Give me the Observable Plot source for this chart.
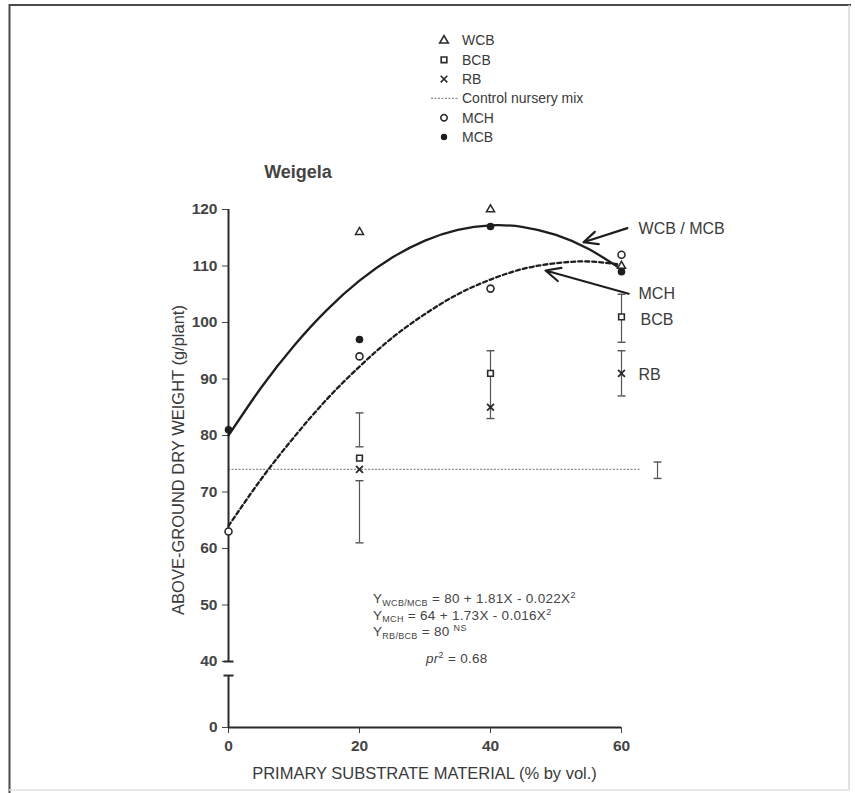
<!DOCTYPE html>
<html><head><meta charset="utf-8">
<script src="https://cdn.jsdelivr.net/npm/d3@7"></script>
<script src="https://cdn.jsdelivr.net/npm/@observablehq/plot@0.6"></script>
<style>
body{margin:0;background:#fff;}
#chart{width:855px;height:793px;}
</style></head><body><div id="chart"></div>
<script>
// ---- data ----
const xTicks = [0, 20, 40, 60];
const yTicks = [0, 40, 50, 60, 70, 80, 90, 100, 110, 120];
const yAxisSegments = [{y1: 0, y2: 31.5}, {y1: 40, y2: 120}];
const yBreakCaps = [31.5, 40];

const wcb = [{x: 20, y: 116}, {x: 40, y: 120}, {x: 60, y: 110}];
const bcb = [{x: 20, y: 76}, {x: 40, y: 91}, {x: 60, y: 101}];
const rb  = [{x: 20, y: 74}, {x: 40, y: 85}, {x: 60, y: 91}];
const mch = [{x: 0, y: 63}, {x: 20, y: 94}, {x: 40, y: 106}, {x: 60, y: 112}];
const mcb = [{x: 0, y: 81}, {x: 20, y: 97}, {x: 40, y: 117}, {x: 60, y: 109}];

const errorBars = [
  {x: 20, lo: 78, hi: 84}, {x: 20, lo: 61, hi: 72},
  {x: 40, lo: 83, hi: 95},
  {x: 60, lo: 96.5, hi: 105}, {x: 60, lo: 87, hi: 95},
  {x: 65.5, lo: 72.4, hi: 75.3}
];
const control = [{x1: 0, x2: 63, y: 74}];

// fitted curves
const fitX   = [0, 5, 10, 15, 20, 25, 30, 35, 40, 45, 50, 55, 60];
const fitWCB = [80.0, 88.5, 95.9, 102.2, 107.4, 111.5, 114.5, 116.4, 117.2, 116.9, 115.5, 113.0, 109.4];
const fitMCH = [64.0, 72.3, 79.7, 86.4, 92.2, 97.3, 101.5, 105.0, 107.6, 109.5, 110.5, 110.8, 110.2];

const arrows = [
  {x1: 60.9, y1: 116.7, x2: 54.2, y2: 114.2},
  {x1: 61.1, y1: 105.1, x2: 48.4, y2: 109.2}
];
const curveLabels = [
  {x: 62.6, y: 116.5, text: "WCB / MCB"},
  {x: 62.6, y: 105.1, text: "MCH"},
  {x: 62.9, y: 100.4, text: "BCB"},
  {x: 62.6, y: 90.8, text: "RB"}
];
const legendItems = [
  {label: "WCB", kind: "triangle"},
  {label: "BCB", kind: "square"},
  {label: "RB", kind: "times"},
  {label: "Control nursery mix", kind: "line"},
  {label: "MCH", kind: "circle"},
  {label: "MCB", kind: "disc"}
];
const equations = [
  [["Y", "n"], ["WCB/MCB", "sub"], [" = 80 + 1.81X - 0.022X", "n"], ["2", "sup"]],
  [["Y", "n"], ["MCH", "sub"], [" = 64 + 1.73X - 0.016X", "n"], ["2", "sup"]],
  [["Y", "n"], ["RB/BCB", "sub"], [" = 80 ", "n"], ["NS", "sup"]],
  [["pr", "i"], ["2", "sup"], [" = 0.68", "n"]]
];
const title = "Weigela";
const xLabel = "PRIMARY SUBSTRATE MATERIAL (% by vol.)";
const yLabel = "ABOVE-GROUND DRY WEIGHT (g/plant)";

// ---- chart ----
const ink = "#2a2a2a";
const hline = {draw(ctx, size) { const w = Math.sqrt(size / Math.PI); ctx.moveTo(-w, 0); ctx.lineTo(w, 0); }};
const fitWCBData = fitX.map((x, i) => ({x, y: fitWCB[i]}));
const fitMCHData = fitX.map((x, i) => ({x, y: fitMCH[i]}));
const caps = errorBars.flatMap(d => [{x: d.x, y: d.lo}, {x: d.x, y: d.hi}]);

const plot = Plot.plot({
  width: 855, height: 793,
  marginLeft: 228, marginRight: 234, marginTop: 209, marginBottom: 66,
  style: {background: "#fff", color: "#444", fontFamily: "Liberation Sans, Arial, sans-serif", fontSize: "15.5px", fontWeight: "bold"},
  x: {domain: [0, 60], range: [228, 621], ticks: xTicks, tickSize: 6, tickPadding: 6, label: null},
  y: {type: "linear", domain: [0, 40, 120], range: [727, 661, 209], ticks: yTicks, tickSize: 6, tickPadding: 5, label: null},
  marks: [
    Plot.ruleY(control, {x1: "x1", x2: "x2", y: "y", stroke: "#8a8a8a", strokeWidth: 1.3, strokeDasharray: "2,1.5"}),
    Plot.ruleX(errorBars, {x: "x", y1: "lo", y2: "hi", stroke: "#555", strokeWidth: 1.2}),
    Plot.dot(caps, {x: "x", y: "y", symbol: hline, r: 4, stroke: "#555", strokeWidth: 1.4}),
    Plot.ruleX(yAxisSegments, {x: 0, y1: "y1", y2: "y2", stroke: ink, strokeWidth: 2}),
    Plot.dot(yBreakCaps, {x: 0, y: d => d, symbol: hline, r: 5, stroke: ink, strokeWidth: 2}),
    Plot.ruleY([0], {x1: 0, x2: 60, stroke: ink, strokeWidth: 2}),
    Plot.line(fitWCBData, {x: "x", y: "y", curve: "natural", stroke: "#1e1e1e", strokeWidth: 2.3}),
    Plot.line(fitMCHData, {x: "x", y: "y", curve: "natural", stroke: "#1e1e1e", strokeWidth: 2.3, strokeDasharray: "4,3"}),
    Plot.dot(wcb, {x: "x", y: "y", symbol: "triangle", r: 3, stroke: ink, strokeWidth: 1.5, fill: "#fff"}),
    Plot.dot(bcb, {x: "x", y: "y", symbol: "square", r: 3.2, stroke: ink, strokeWidth: 1.6, fill: "#fff"}),
    Plot.dot(rb, {x: "x", y: "y", symbol: "times", r: 3.2, stroke: ink, strokeWidth: 1.8}),
    Plot.dot(mch, {x: "x", y: "y", symbol: "circle", r: 3.5, stroke: ink, strokeWidth: 1.6, fill: "#fff"}),
    Plot.dot(mcb, {x: "x", y: "y", symbol: "circle", r: 3.8, fill: "#1e1e1e"}),
    Plot.arrow(arrows, {x1: "x1", y1: "y1", x2: "x2", y2: "y2", stroke: "#1e1e1e", strokeWidth: 2.2, headLength: 11, headAngle: 50}),
    Plot.text(curveLabels, {x: "x", y: "y", text: "text", textAnchor: "start", fontSize: 16, fontWeight: "normal", fill: "#3a3a3a"})
  ]
});
document.getElementById("chart").appendChild(plot);

// ---- texts, legend and frame placed in the svg ----
const svg = d3.select(plot);
const sx = plot.scale("x"), sy = plot.scale("y");
const g = svg.append("g")
  .attr("font-family", "Liberation Sans, Arial, sans-serif")
  .attr("font-weight", "normal")
  .attr("text-anchor", "start")
  .attr("fill", "#3a3a3a");

// frame
g.append("line").attr("x1", 9).attr("x2", 851).attr("y1", 5).attr("y2", 5).attr("stroke", "#4a4a4a").attr("stroke-width", 2);
g.append("line").attr("x1", 9.5).attr("x2", 9.5).attr("y1", 4).attr("y2", 793).attr("stroke", "#4a4a4a").attr("stroke-width", 2);
g.append("line").attr("x1", 849).attr("x2", 849).attr("y1", 5).attr("y2", 790).attr("stroke", "#d8d8d8").attr("stroke-width", 1.5);
g.append("line").attr("x1", 9).attr("x2", 850).attr("y1", 790).attr("y2", 790).attr("stroke", "#e2e2e2").attr("stroke-width", 1.5);

// title
g.append("text").attr("x", 298).attr("y", 178).attr("text-anchor", "middle").attr("font-size", 18).attr("font-weight", "bold").attr("fill", "#444").text(title);

// axis labels
g.append("text").attr("x", (sx.apply(0) + sx.apply(60)) / 2).attr("y", 779).attr("text-anchor", "middle").attr("font-size", 16.5).text(xLabel);
g.append("text").attr("transform", "translate(184,460) rotate(-90)").attr("text-anchor", "middle").attr("font-size", 16.5).text(yLabel);

// legend
const lgX = 444, lgY0 = 40.5, lgDy = 19.3;
legendItems.forEach((it, i) => {
  const y = lgY0 + i * lgDy;
  if (it.kind === "line") {
    g.append("line").attr("x1", 431).attr("x2", 459).attr("y1", y).attr("y2", y).attr("stroke", "#8a8a8a").attr("stroke-width", 1.2).attr("stroke-dasharray", "2,1.5");
  } else {
    const sym = {triangle: d3.symbolTriangle, square: d3.symbolSquare, times: d3.symbolTimes, circle: d3.symbolCircle, disc: d3.symbolCircle}[it.kind];
    const p = g.append("path").attr("transform", `translate(${lgX},${y})`).attr("d", d3.symbol(sym, it.kind === "times" ? 30 : 32)());
    if (it.kind === "disc") p.attr("fill", "#1e1e1e");
    else p.attr("fill", it.kind === "times" ? "none" : "#fff").attr("stroke", ink).attr("stroke-width", 1.6);
  }
  g.append("text").attr("x", 462).attr("y", y).attr("dy", "0.35em").attr("font-size", 14).text(it.label);
});

// equations
const eqX = 373, eqYs = [603, 619.5, 636, 663], eqXs = [eqX, eqX, eqX, 426];
equations.forEach((parts, i) => {
  const t = g.append("text").attr("x", eqXs[i]).attr("y", eqYs[i]).attr("font-size", 13.5).attr("letter-spacing", "0.3px").attr("fill", "#444");
  let shift = 0;
  parts.forEach(([s, k]) => {
    const ts = t.append("tspan").text(s);
    let target = k === "sub" ? 2.5 : k === "sup" ? -5 : 0;
    ts.attr("dy", target - shift); shift = target;
    if (k === "sub" || k === "sup") ts.attr("font-size", 9);
    if (k === "i") ts.attr("font-style", "italic");
  });
});
</script>
</body></html>
